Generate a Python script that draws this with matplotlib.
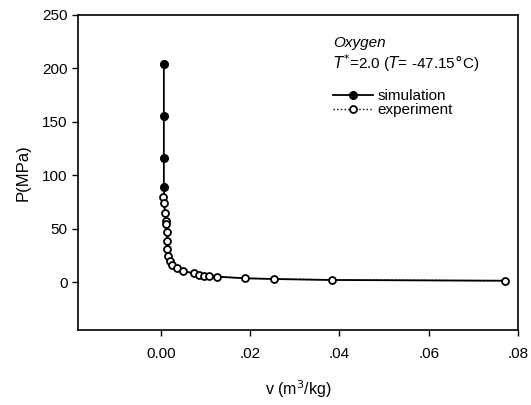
import numpy as np
import matplotlib.pyplot as plt

plt.rcParams['font.family'] = ['Liberation Sans', 'DejaVu Sans']

# simulation (filled) - v in m3/kg, P in MPa
sim_v = [0.0007, 0.0007, 0.0007, 0.0007, 0.0007, 0.0008, 0.0011, 0.0014, 0.0017,
         0.0021, 0.0026, 0.0036, 0.0049, 0.0075, 0.0086, 0.0097, 0.0108, 0.0125,
         0.0189, 0.0254, 0.0383, 0.0771]
sim_P = [204, 155, 116, 89, 85, 74, 57, 47, 31,
         20, 16, 13, 10.5, 8, 6.8, 6, 5.3, 5,
         3.5, 2.8, 1.9, 1.2]

# experiment (open)
exp_v = [0.0005, 0.0007, 0.0009, 0.0011, 0.0012, 0.0013, 0.0014, 0.0015, 0.0017,
         0.0021, 0.0026, 0.0036, 0.0049, 0.0075, 0.0086, 0.0097, 0.0108, 0.0125,
         0.0189, 0.0254, 0.0383, 0.0771]
exp_P = [80, 74, 65, 57, 54, 47, 38.5, 31, 24.5,
         20, 16, 13, 10.5, 8, 6.8, 6, 5.3, 5,
         3.5, 2.8, 1.9, 1.2]

xticks = [0.0, 0.02, 0.04, 0.06, 0.08]
xticklabels = ['0.00', '.02', '.04', '.06', '.08']
yticks = [0, 50, 100, 150, 200, 250]

fig = plt.figure(figsize=(5.31, 4.05), dpi=100)
ax = fig.add_axes([0.147, 0.185, 0.829, 0.778])

ax.plot(sim_v, sim_P, '-', color='black', lw=1.3, zorder=2)
ax.plot(sim_v[:4], sim_P[:4], 'o', color='black', ms=5.5, zorder=3)
ax.plot(exp_v, exp_P, ':', color='black', lw=1, marker='o', ms=5,
        mfc='white', mec='black', mew=1.3, zorder=4)

ax.set_xlim(-0.0185, 0.08)
ax.set_ylim(-45, 250)
ax.set_xticks(xticks)
ax.set_xticklabels(xticklabels)
ax.set_yticks(yticks)
ax.tick_params(direction='out', length=4, width=1, labelsize=11, top=False, right=False)
ax.tick_params(axis='x', pad=8)
for s in ax.spines.values():
    s.set_linewidth(1.2)

ax.set_xlabel('v (m$^3$/kg)', fontsize=11.5, labelpad=13)
ax.set_ylabel('P(MPa)', fontsize=12, labelpad=8)

ax.text(0.58, 0.91, 'Oxygen', transform=ax.transAxes, fontsize=11, style='italic',
        va='center')
ax.text(0.58, 0.848, r'$T^{*}$=2.0 ($T$= -47.15$\degree$C)', transform=ax.transAxes,
        fontsize=11, va='center')

h1, = ax.plot([], [], '-', color='black', lw=1.3, marker='o', ms=5.5)
h2, = ax.plot([], [], ':', color='black', lw=1, marker='o', ms=5, mfc='white', mew=1.3)
ax.legend([h1, h2], ['simulation', 'experiment'], loc='upper left',
          bbox_to_anchor=(0.58, 0.765), frameon=False, fontsize=11,
          handlelength=2.6, handletextpad=0.3, labelspacing=0.0, borderpad=0,
          borderaxespad=0)

fig.savefig('out.png', dpi=100)
